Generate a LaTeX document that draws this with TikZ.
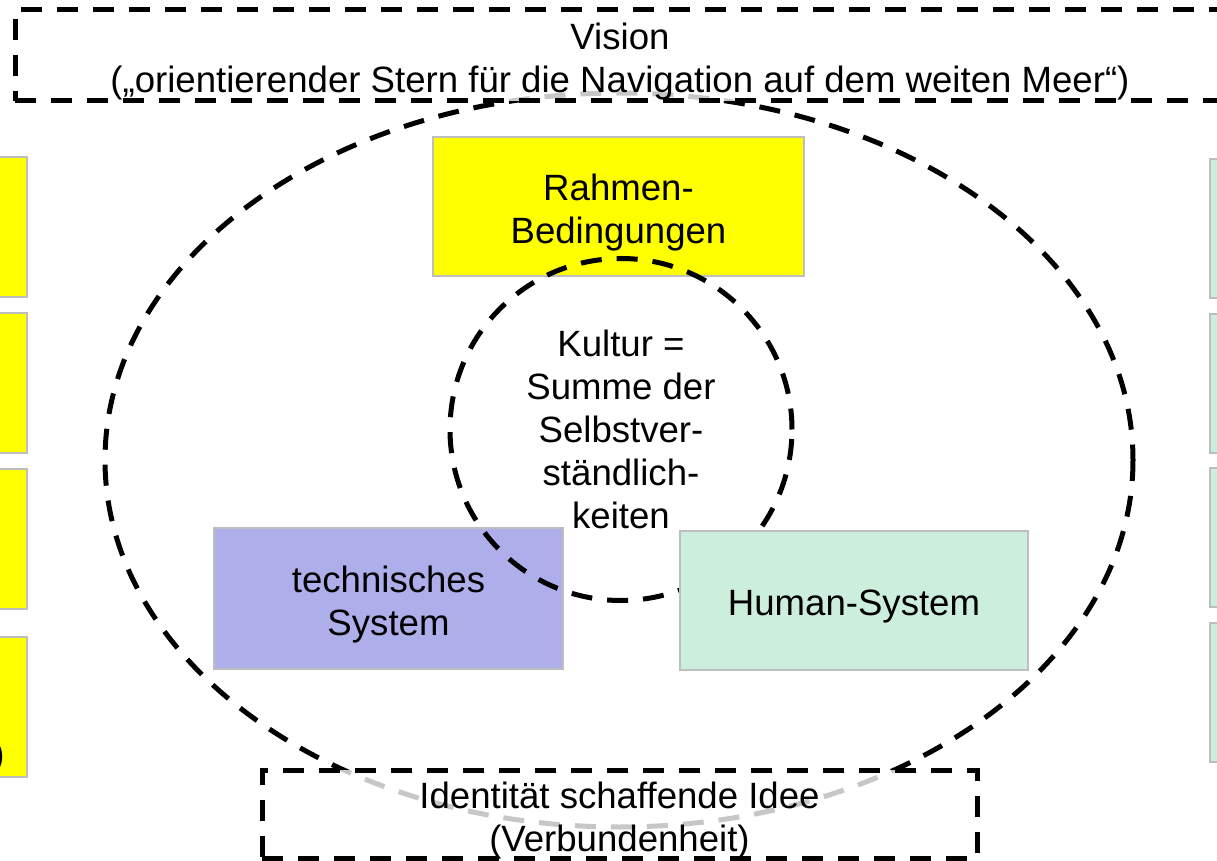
\documentclass[tikz,border=0pt]{standalone}
\usepackage{fontspec}
\setmainfont{Liberation Sans}
\usepackage{tikz}
\definecolor{rahmengelb}{HTML}{FFFF00}
\definecolor{techblau}{HTML}{AEAEEB}
\definecolor{humangruen}{HTML}{CCEEDD}
\definecolor{randgrau}{HTML}{BEBEBE}

\begin{document}
\begin{tikzpicture}[x=0.5pt,y=-0.5pt,
  font=\fontsize{18.3}{21.5}\selectfont,
  feld/.style={rectangle,draw=randgrau,line width=1pt,inner sep=0},
  strichlinie/.style={draw=black,line width=2.5pt,dash pattern=on 10.5pt off 7.5pt},
  strichbox/.style={strichlinie,rectangle,fill=white,fill opacity=0.78,inner sep=0},
  beschriftung/.style={label={[align=center,text opacity=1,yshift=-3.2pt]center:#1}}]
\useasboundingbox (0,0) rectangle (1217,861);
% angeschnittene Felder links und rechts
\foreach \t [count=\i] in {156,312,468,636} {
  \node[feld,fill=rahmengelb,minimum width=30pt,minimum height=70pt,anchor=north east] (links\i) at (28,\t) {};
}
\node[inner sep=0,anchor=east] (klammer) at (5,757) {)};
\foreach \t [count=\i] in {158,313,467,622} {
  \node[feld,fill=humangruen,minimum width=30pt,minimum height=69.5pt,anchor=north west] (rechts\i) at (1209,\t) {};
}
% grosse Ellipse
\draw[strichlinie] (619,460) ellipse (514 and 367);
\node[strichbox,minimum width=605pt,minimum height=45.5pt,
  beschriftung={Vision\\(„orientierender Stern für die Navigation auf dem weiten Meer“)}] (vision) at (620,55.5) {};
\node[strichbox,minimum width=357.5pt,minimum height=44pt,
  beschriftung={Identität schaffende Idee\\(Verbundenheit)}] (idee) at (619.5,814) {};
% innere Felder
\node[feld,fill=rahmengelb,minimum width=185.5pt,minimum height=69.5pt,
  beschriftung={Rahmen-\\Bedingungen}] (rahmen) at (618.5,206.5) {};
\node[feld,fill=techblau,minimum width=174.5pt,minimum height=70.5pt,
  beschriftung={technisches\\System}] (technik) at (388.5,598.5) {};
\node[strichlinie,circle,inner sep=0,minimum size=171pt,align=center] (kultur) at (621,429.5) {Kultur =\\Summe der\\Selbstver-\\ständlich-\\keiten};
\node[feld,fill=humangruen,minimum width=174pt,minimum height=69.5pt,
  beschriftung={Human-System}] (human) at (854,600.5) {};
\end{tikzpicture}
\end{document}
